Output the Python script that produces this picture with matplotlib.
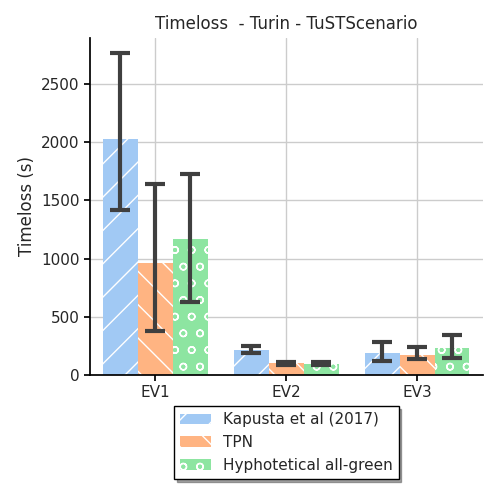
import numpy as np
import matplotlib
matplotlib.use('Agg')
import matplotlib.pyplot as plt
import seaborn as sns

sns.set_theme(style='whitegrid')
plt.rcParams['hatch.color'] = 'white'

categories = ['EV1', 'EV2', 'EV3']
series = ['Kapusta et al (2017)', 'TPN', 'Hyphotetical all-green']
means = [[2030, 215, 185], [960, 100, 175], [1170, 95, 230]]
lows = [[1420, 190, 120], [375, 85, 140], [625, 85, 150]]
highs = [[2770, 245, 285], [1640, 115, 240], [1730, 110, 345]]
hatches = ['/', '\\', 'o']

colors = sns.color_palette('pastel')
fig = plt.figure(figsize=(5, 5), dpi=100)
ax = fig.add_axes([0.18, 0.25, 0.785, 0.675])
x = np.arange(len(categories))
w = 0.267
for i, name in enumerate(series):
    m = np.array(means[i]); lo = np.array(lows[i]); hi = np.array(highs[i])
    pos = x + (i - 1) * w
    ax.bar(pos, m, w, color=colors[i], hatch=hatches[i], label=name, edgecolor='white', linewidth=0)
    ax.errorbar(pos, m, yerr=[m - lo, hi - m], fmt='none', ecolor='#3f3f3f',
                elinewidth=3, capsize=7, capthick=3)
ax.set_xticks(x)
ax.set_xticklabels(categories)
ax.set_xlim(-0.5, 2.5)
ax.set_ylim(0, 2900)
ax.set_ylabel('Timeloss (s)')
ax.set_title('Timeloss  - Turin - TuSTScenario', fontsize=12)
sns.despine(ax=ax)
for s in ['left', 'bottom']:
    ax.spines[s].set_color('black')
ax.tick_params(axis='both', length=4, color='black', left=True, bottom=True)
ax.legend(loc='upper center', bbox_to_anchor=(0.5, -0.07), shadow=True, frameon=True,
          fancybox=False, edgecolor='black')
fig.savefig('out.png', dpi=100)
